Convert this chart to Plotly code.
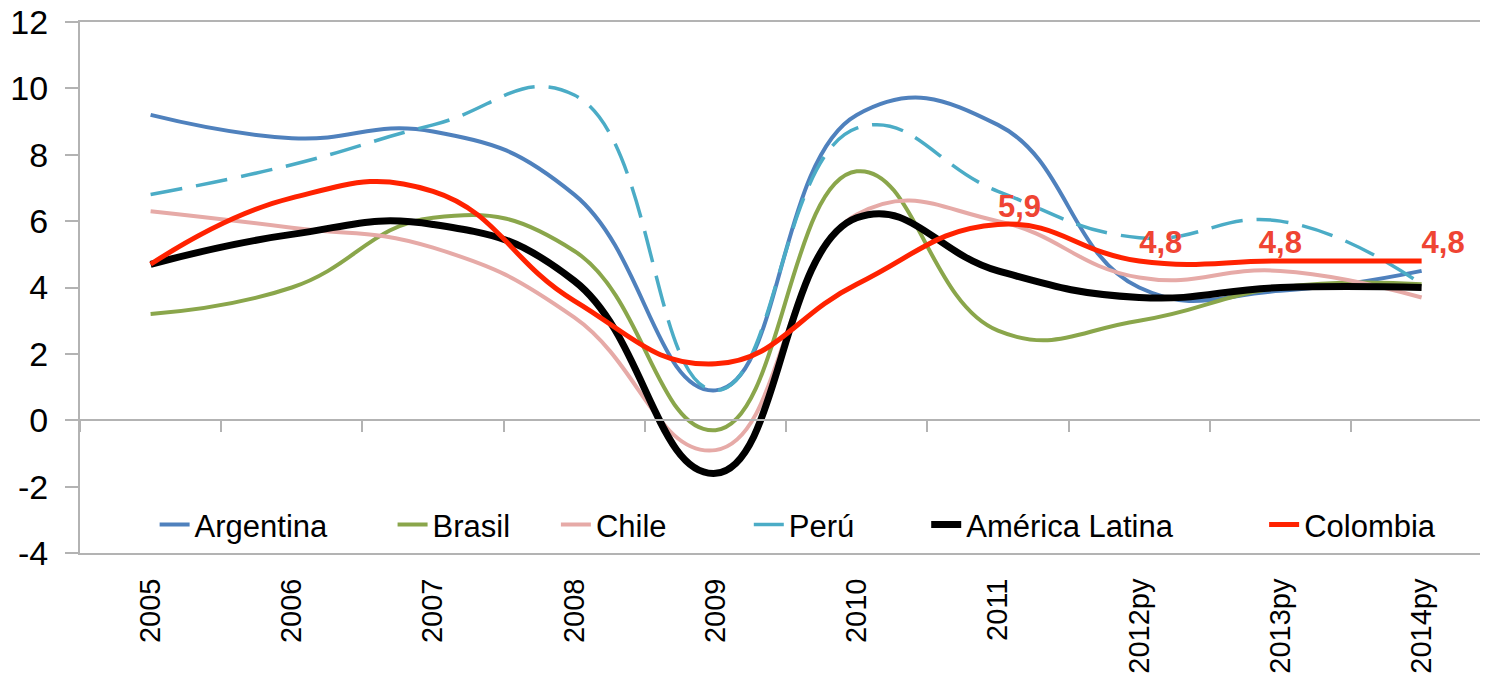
import plotly.graph_objects as go

years = ["2005", "2006", "2007", "2008", "2009", "2010", "2011", "2012py", "2013py", "2014py"]
argentina = [9.2, 8.5, 8.7, 6.8, 0.9, 9.2, 8.9, 4.0, 3.9, 4.5]
brasil = [3.2, 4.0, 6.1, 5.1, -0.3, 7.5, 2.7, 3.0, 4.0, 4.1]
chile = [6.3, 5.8, 5.2, 3.1, -0.9, 6.2, 6.0, 4.3, 4.5, 3.7]
peru = [6.8, 7.7, 8.9, 9.8, 0.9, 8.8, 6.9, 5.5, 6.0, 4.1]
america_latina = [4.7, 5.6, 5.9, 4.2, -1.6, 6.1, 4.5, 3.7, 4.0, 4.0]
colombia = [4.7, 6.7, 6.9, 3.6, 1.7, 4.1, 5.9, 4.8, 4.8, 4.8]
colombia_labels = ["", "", "", "", "", "", "5,9", "4,8", "4,8", "4,8"]
y_ticks = [12, 10, 8, 6, 4, 2, 0, -2, -4]
y_tick_text = ["12", "10", "8", "6", "4", "2", "0", "-2", "-4"]

FONT = "Liberation Sans, Arial, sans-serif"
AXIS_GRAY = "#b3b3b3"
SMOOTH = 1.3

# left edge (fraction of plot width) for each legend entry
legend_x = [0.053, 0.222, 0.338, 0.475, 0.601, 0.841]

fig = go.Figure()

def add_line(name, values, color, width, idx, dash="solid"):
    fig.add_trace(go.Scatter(
        x=years, y=values, name=name, mode="lines",
        line=dict(color=color, width=width, dash=dash, shape="spline", smoothing=SMOOTH),
        legend="legend" if idx == 0 else "legend%d" % (idx + 1),
    ))

add_line("Argentina", argentina, "#4f81bd", 4, 0)
add_line("Brasil", brasil, "#8aa64b", 4, 1)
add_line("Chile", chile, "#e6aaa7", 4, 2)
add_line("Perú", peru, "#4bacc6", 3.5, 3, dash="32px,14px")
add_line("América Latina", america_latina, "#000000", 7, 4)

fig.add_trace(go.Scatter(
    x=years, y=colombia, name="Colombia", mode="lines+text",
    line=dict(color="#ff2200", width=5, shape="spline", smoothing=SMOOTH),
    text=colombia_labels,
    textposition=["top center"] * 6 + ["top right", "top right", "top center", "top right"],
    textfont=dict(family=FONT, size=31, color="#ef4433", weight="bold"),
    legend="legend6",
))

# invisible helper trace so the zero-line axis knows the categories
fig.add_trace(go.Scatter(
    x=years, y=colombia, xaxis="x2", mode="markers",
    marker=dict(opacity=0), showlegend=False, hoverinfo="skip",
))

legends = {}
for i, lx in enumerate(legend_x):
    key = "legend" if i == 0 else "legend%d" % (i + 1)
    legends[key] = dict(
        orientation="h", x=lx, y=0.053, xanchor="left", yanchor="middle",
        font=dict(size=31, family=FONT), bgcolor="rgba(0,0,0,0)",
    )

fig.update_layout(
    width=1480, height=673,
    margin=dict(l=72, r=0, t=14, b=128),
    plot_bgcolor="white", paper_bgcolor="white",
    font=dict(family=FONT, color="#000000"),
    xaxis=dict(
        type="category", range=[-0.5, 9.47], automargin=False,
        showline=True, mirror=True, linecolor=AXIS_GRAY, linewidth=2,
        showgrid=False, zeroline=False, ticks="",
        tickangle=-90, tickfont=dict(size=29, family=FONT),
        ticklabelstandoff=12, ticklabeloverflow="allow",
    ),
    xaxis2=dict(
        type="category", overlaying="x", anchor="free", position=0.25,
        range=[-0.5, 9.47], showline=True, linecolor=AXIS_GRAY, linewidth=2,
        ticks="outside", tickson="boundaries", ticklen=11, tickcolor=AXIS_GRAY,
        tickwidth=1.5, showticklabels=False, showgrid=False, zeroline=False,
        automargin=False,
    ),
    yaxis=dict(
        range=[-4, 12], tickvals=y_ticks, ticktext=y_tick_text, automargin=False,
        showline=True, linecolor=AXIS_GRAY,
        linewidth=2, ticks="outside", ticklen=13, tickcolor=AXIS_GRAY, tickwidth=1.5,
        showgrid=False, zeroline=False, ticklabelstandoff=10,
        ticklabeloverflow="allow",
        tickfont=dict(size=34, family=FONT),
    ),
    showlegend=True,
    **legends,
)

fig.write_html("out.html")
